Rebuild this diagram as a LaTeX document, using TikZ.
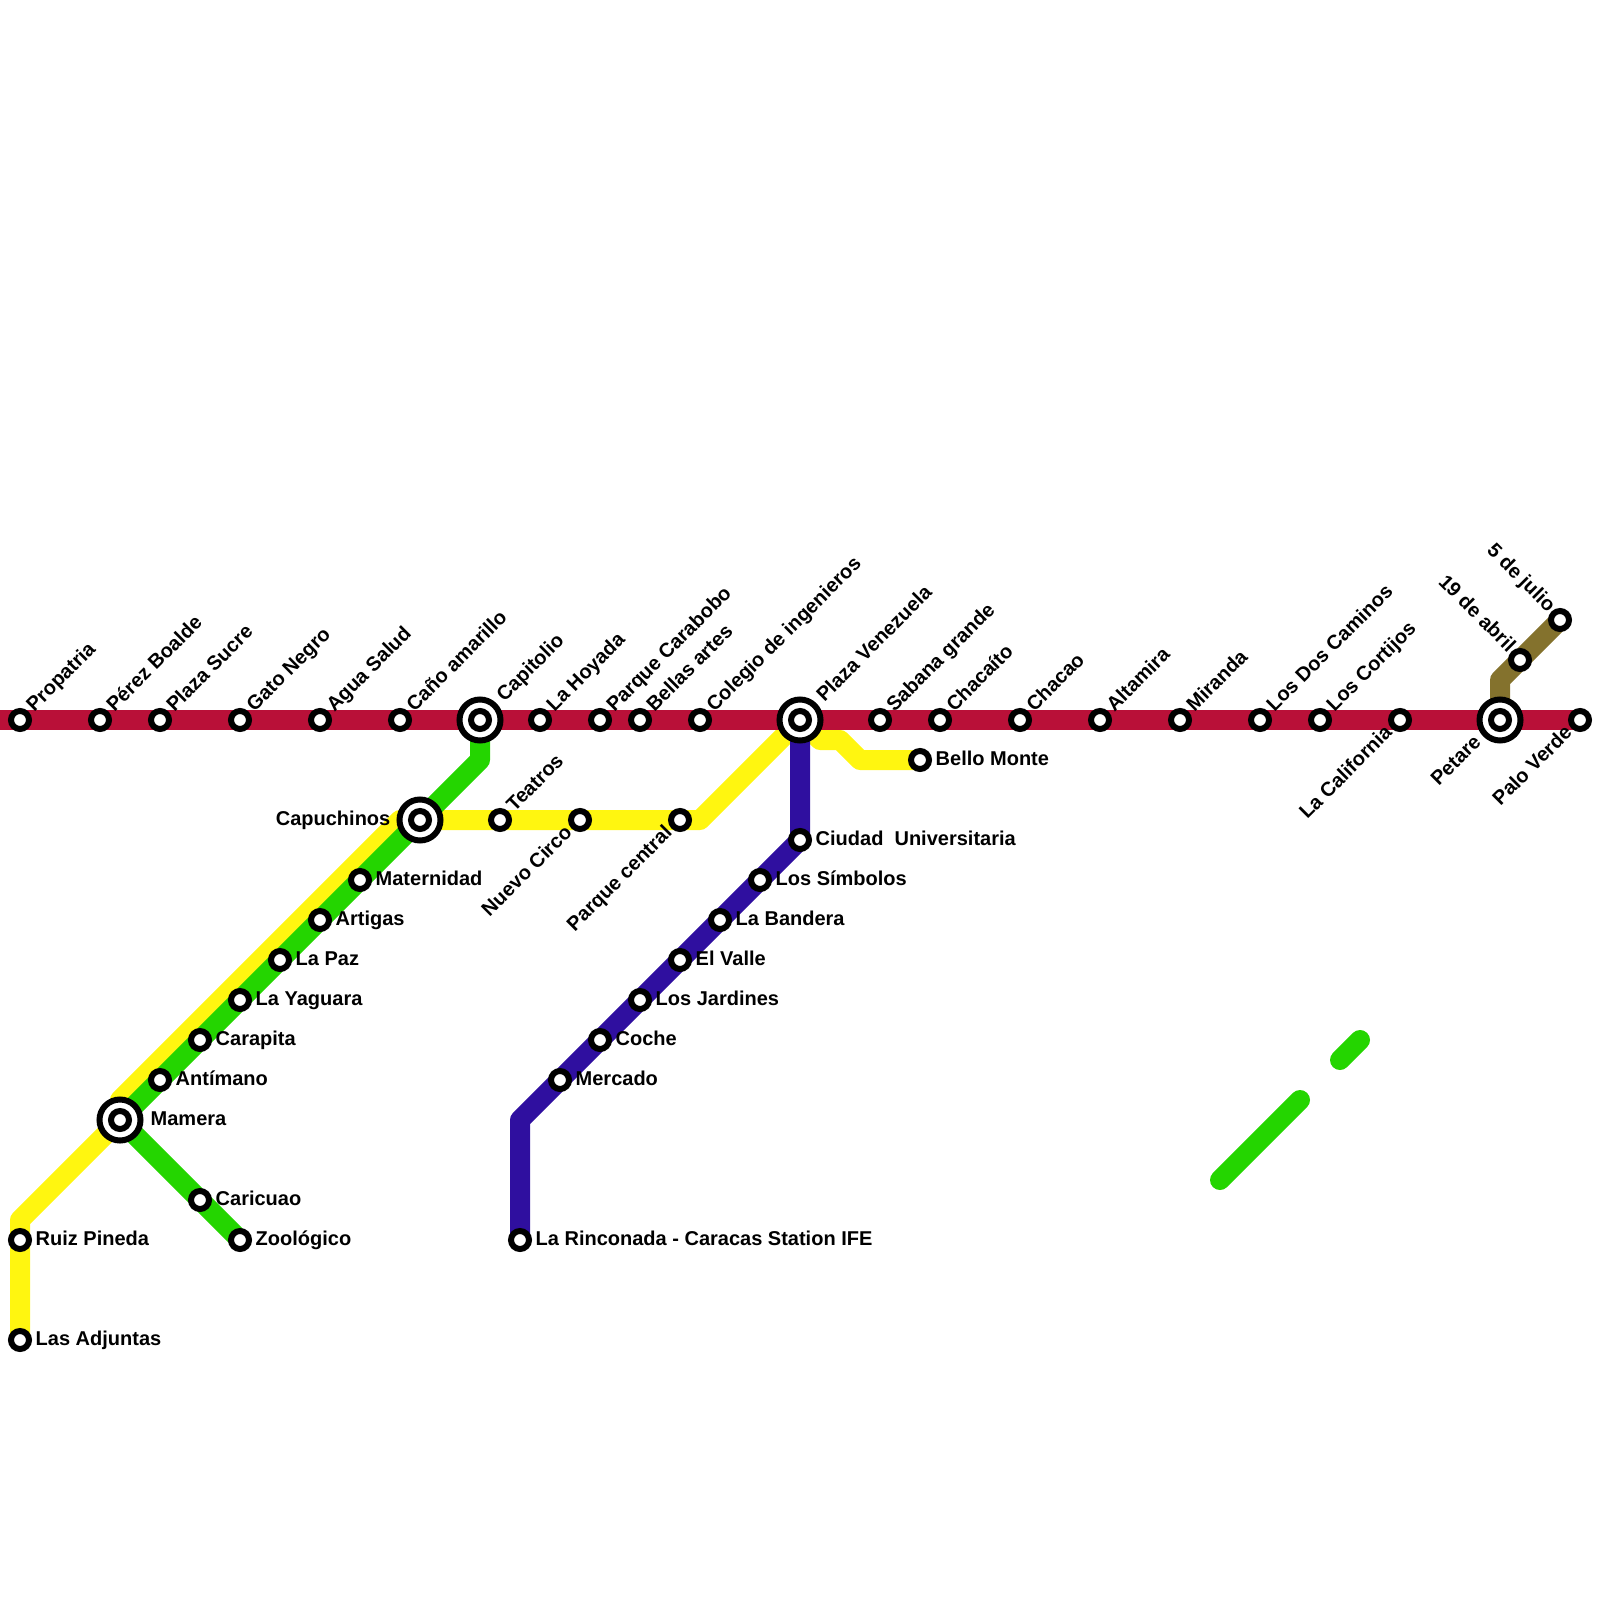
\documentclass[tikz,border=0pt]{standalone}
\usepackage{fontspec}
\setmainfont{Liberation Sans}
\usetikzlibrary{backgrounds}
\definecolor{redline}{HTML}{B91038}
\definecolor{greenline}{HTML}{24D500}
\definecolor{yellowline}{HTML}{FFF610}
\definecolor{blueline}{HTML}{2F0F9F}
\definecolor{brownline}{HTML}{84722D}

\begin{document}
\begin{tikzpicture}[
    x=2mm, y=-2mm,
    stn/.style={circle, draw=black, fill=white, line width=0.6mm,
                inner sep=0pt, minimum size=1.8mm},
    hub/.style={circle, draw=black, fill=white, line width=0.6mm,
                inner sep=0pt, minimum size=4.1mm},
    lbl/.style={inner sep=0pt, text=black,
                font=\fontsize{5.69}{7}\selectfont\bfseries},
    lblup/.style={lbl, xshift=1.4mm, yshift=0.7mm, rotate=45, anchor=base west},
    lblhubup/.style={lbl, xshift=2.4mm, yshift=1.7mm, rotate=45, anchor=base west},
    lbldown/.style={lbl, xshift=-0.65mm, yshift=-1.35mm, rotate=45, anchor=base east},
    lblhubdown/.style={lbl, xshift=-1.75mm, yshift=-2.3mm, rotate=45, anchor=base east},
    lblback/.style={lbl, xshift=-1.2mm, yshift=0.65mm, rotate=-45, anchor=base east},
    lblright/.style={lbl, xshift=1.5mm, yshift=-0.5mm, anchor=base west},
    lblhubright/.style={lbl, xshift=3mm, yshift=-0.5mm, anchor=base west},
    lblhubleft/.style={lbl, xshift=-2.9mm, yshift=-0.5mm, anchor=base east},
    metro/.style={line width=2mm, line cap=round, line join=round}
  ]

  \useasboundingbox (0,0) rectangle (80,80);

  % Main east-west line
  \coordinate (westend) at (0,36);
  \node[stn] (propatria) at (1,36) {};
  \node[lblup] (propatrialbl) at (propatria) {Propatria};
  \node[stn] (perez) at (5,36) {};
  \node[lblup] (perezlbl) at (perez) {Pérez Boalde};
  \node[stn] (sucre) at (8,36) {};
  \node[lblup] (sucrelbl) at (sucre) {Plaza Sucre};
  \node[stn] (gato) at (12,36) {};
  \node[lblup] (gatolbl) at (gato) {Gato Negro};
  \node[stn] (agua) at (16,36) {};
  \node[lblup] (agualbl) at (agua) {Agua Salud};
  \node[stn] (cano) at (20,36) {};
  \node[lblup] (canolbl) at (cano) {Caño amarillo};
  \node[hub] (capitolio) at (24,36) {};
  \node[stn] (capitolioin) at (capitolio) {};
  \node[lblhubup] (capitoliolbl) at (capitolio) {Capitolio};
  \node[stn] (hoyada) at (27,36) {};
  \node[lblup] (hoyadalbl) at (hoyada) {La Hoyada};
  \node[stn] (carabobo) at (30,36) {};
  \node[lblup] (carabobolbl) at (carabobo) {Parque Carabobo};
  \node[stn] (bellas) at (32,36) {};
  \node[lblup] (bellaslbl) at (bellas) {Bellas artes};
  \node[stn] (colegio) at (35,36) {};
  \node[lblup] (colegiolbl) at (colegio) {Colegio de ingenieros};
  \node[hub] (venezuela) at (40,36) {};
  \node[stn] (venezuelain) at (venezuela) {};
  \node[lblhubup] (venezuelalbl) at (venezuela) {Plaza Venezuela};
  \node[stn] (sabana) at (44,36) {};
  \node[lblup] (sabanalbl) at (sabana) {Sabana grande};
  \node[stn] (chacaito) at (47,36) {};
  \node[lblup] (chacaitolbl) at (chacaito) {Chacaíto};
  \node[stn] (chacao) at (51,36) {};
  \node[lblup] (chacaolbl) at (chacao) {Chacao};
  \node[stn] (altamira) at (55,36) {};
  \node[lblup] (altamiralbl) at (altamira) {Altamira};
  \node[stn] (miranda) at (59,36) {};
  \node[lblup] (mirandalbl) at (miranda) {Miranda};
  \node[stn] (caminos) at (63,36) {};
  \node[lblup] (caminoslbl) at (caminos) {Los Dos Caminos};
  \node[stn] (cortijos) at (66,36) {};
  \node[lblup] (cortijoslbl) at (cortijos) {Los Cortijos};
  \node[stn] (california) at (70,36) {};
  \node[lbldown] (californialbl) at (california) {La California};
  \node[hub] (petare) at (75,36) {};
  \node[stn] (petarein) at (petare) {};
  \node[lblhubdown] (petarelbl) at (petare) {Petare};
  \node[stn] (palo) at (79,36) {};
  \node[lbldown] (palolbl) at (palo) {Palo Verde};

  % Green line
  \coordinate (greenbend) at (24,38);
  \node[hub] (capuchinos) at (21,41) {};
  \node[stn] (capuchinosin) at (capuchinos) {};
  \node[lblhubleft] (capuchinoslbl) at (capuchinos) {Capuchinos};
  \node[stn] (maternidad) at (18,44) {};
  \node[lblright] (maternidadlbl) at (maternidad) {Maternidad};
  \node[stn] (artigas) at (16,46) {};
  \node[lblright] (artigaslbl) at (artigas) {Artigas};
  \node[stn] (paz) at (14,48) {};
  \node[lblright] (pazlbl) at (paz) {La Paz};
  \node[stn] (yaguara) at (12,50) {};
  \node[lblright] (yaguaralbl) at (yaguara) {La Yaguara};
  \node[stn] (carapita) at (10,52) {};
  \node[lblright] (carapitalbl) at (carapita) {Carapita};
  \node[stn] (antimano) at (8,54) {};
  \node[lblright] (antimanolbl) at (antimano) {Antímano};
  \node[hub] (mamera) at (6,56) {};
  \node[stn] (mamerain) at (mamera) {};
  \node[lblhubright] (mameralbl) at (mamera) {Mamera};
  \node[stn] (caricuao) at (10,60) {};
  \node[lblright] (caricuaolbl) at (caricuao) {Caricuao};
  \node[stn] (zoologico) at (12,62) {};
  \node[lblright] (zoologicolbl) at (zoologico) {Zoológico};

  % Yellow line
  \node[stn] (adjuntas) at (1,67) {};
  \node[lblright] (adjuntaslbl) at (adjuntas) {Las Adjuntas};
  \node[stn] (ruiz) at (1,62) {};
  \node[lblright] (ruizlbl) at (ruiz) {Ruiz Pineda};
  \coordinate (yellowa) at (1,61);
  \coordinate (yellowb) at (6,55);
  \coordinate (yellowc) at (20,41);
  \node[stn] (teatros) at (25,41) {};
  \node[lblup] (teatroslbl) at (teatros) {Teatros};
  \node[stn] (circo) at (29,41) {};
  \node[lbldown] (circolbl) at (circo) {Nuevo Circo};
  \node[stn] (central) at (34,41) {};
  \node[lbldown] (centrallbl) at (central) {Parque central};
  \coordinate (yellowd) at (35,41);
  \coordinate (yellowe) at (41,37);
  \coordinate (yellowf) at (42,37);
  \coordinate (yellowg) at (43,38);
  \node[stn] (bello) at (46,38) {};
  \node[lblright] (bellolbl) at (bello) {Bello Monte};

  % Blue line
  \node[stn] (ciudad) at (40,42) {};
  \node[lblright] (ciudadlbl) at (ciudad) {Ciudad~ Universitaria};
  \node[stn] (simbolos) at (38,44) {};
  \node[lblright] (simboloslbl) at (simbolos) {Los Símbolos};
  \node[stn] (bandera) at (36,46) {};
  \node[lblright] (banderalbl) at (bandera) {La Bandera};
  \node[stn] (valle) at (34,48) {};
  \node[lblright] (vallelbl) at (valle) {El Valle};
  \node[stn] (jardines) at (32,50) {};
  \node[lblright] (jardineslbl) at (jardines) {Los Jardines};
  \node[stn] (coche) at (30,52) {};
  \node[lblright] (cochelbl) at (coche) {Coche};
  \node[stn] (mercado) at (28,54) {};
  \node[lblright] (mercadolbl) at (mercado) {Mercado};
  \coordinate (bluebend) at (26,56);
  \node[stn] (rinconada) at (26,62) {};
  \node[lblright] (rinconadalbl) at (rinconada) {La Rinconada - Caracas Station IFE};

  % Brown line
  \coordinate (brownbend) at (75,34);
  \node[stn] (abril) at (76,33) {};
  \node[lblback] (abrillbl) at (abril) {19 de abril};
  \node[stn] (julio) at (78,31) {};
  \node[lblback] (juliolbl) at (julio) {5 de julio};

  % Loose green pieces
  \coordinate (piecea) at (61,59);
  \coordinate (pieceb) at (65,55);
  \coordinate (piecec) at (67,53);
  \coordinate (pieced) at (68,52);

  \begin{scope}[on background layer]
    \draw[metro, yellowline] (adjuntas.center) -- (yellowa) -- (mamera.center)
      -- (yellowb) -- (yellowc) -- (capuchinos.center) -- (yellowd)
      -- (venezuela.center) -- (yellowe) -- (yellowf) -- (yellowg) -- (bello.center);
    \draw[metro, greenline] (capitolio.center) -- (greenbend) -- (mamera.center)
      -- (zoologico.center);
    \draw[metro, greenline] (piecea) -- (pieceb);
    \draw[metro, greenline] (piecec) -- (pieced);
    \draw[metro, blueline] (venezuela.center) -- (ciudad.center) -- (bluebend)
      -- (rinconada.center);
    \draw[metro, brownline] (petare.center) -- (brownbend) -- (julio.center);
    \draw[metro, redline] (westend) -- (palo.center);
  \end{scope}

\end{tikzpicture}
\end{document}
